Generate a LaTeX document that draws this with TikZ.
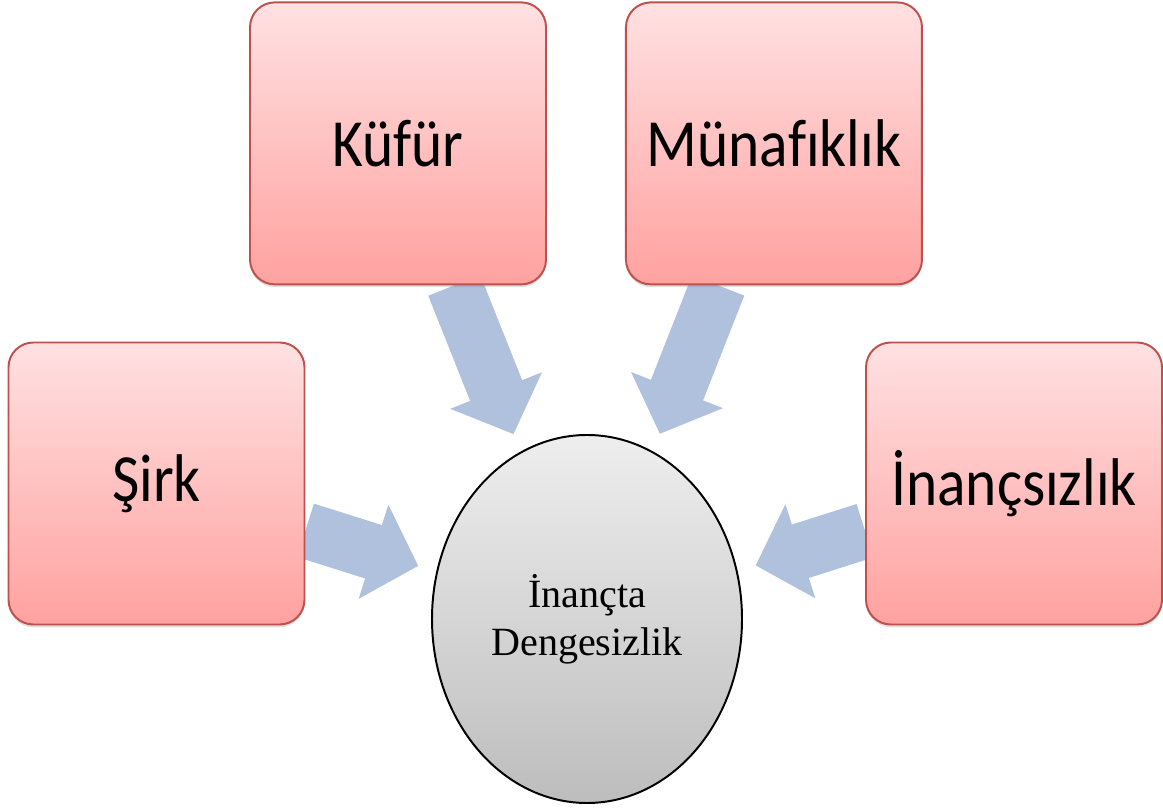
\documentclass[tikz,border=0pt]{standalone}
\usepackage{fontspec}
\usepackage{tikz}
\usetikzlibrary{arrows.meta, positioning, shapes, shapes.geometric, shadows, backgrounds}
\setmainfont{Liberation Serif}
\newfontfamily\boxfont[FakeStretch=0.88, Ligatures=NoCommon]{Carlito}
\definecolor{boxTop}{HTML}{FFE1E2}
\definecolor{boxBottom}{HTML}{FFA2A0}
\definecolor{boxLine}{HTML}{C0504D}
\definecolor{ovalTop}{HTML}{EEEEEE}
\definecolor{ovalBottom}{HTML}{BDBDBD}
\definecolor{flowBlue}{HTML}{B0C1DD}
\tikzset{
  box/.style = {
    draw=boxLine,
    line width=1.4pt,
    rectangle,
    rounded corners=0.62cm,
    top color=boxTop,
    bottom color=boxBottom,
    minimum width=7.4cm,
    minimum height=7.05cm,
    align=center,
    font=\boxfont\fontsize{48}{56}\selectfont,
    drop shadow={shadow xshift=0pt, shadow yshift=-2pt, opacity=.25},
  },
  oval/.style = {
    draw,
    ellipse,
    line width=1.4pt,
    top color=ovalTop,
    bottom color=ovalBottom,
    minimum width=7.75cm,
    minimum height=9.2cm,
    align=center,
    font=\fontsize{28.5}{34}\selectfont,
  },
  flow/.style = {
    draw=flowBlue,
    line width=1.4cm,
    -{Triangle[length=1.175cm, width=2.4cm]},
    shorten >=0.47cm,
  },
}

\begin{document}
\begin{tikzpicture}

\useasboundingbox (0,0) rectangle (29.075,20.275);

\node(Center)[oval] at (14.675,4.8) {İnançta\\Dengesizlik};

\node(Kufur)[box] at (9.95,16.69) {Küfür};
\node(Munafik)[box, right=1.95cm of Kufur] {Münafıklık};
\node(Sirk)[box] at (3.9125,8.1875) {Şirk};
\node(Inancsiz)[box] at (25.35,8.1875) {İnançsızlık};

\begin{scope}[on background layer]
  \draw[flow] (Kufur) -- (Center);
  \draw[flow] (Munafik) -- (Center);
  \draw[flow] (Sirk) -- (Center);
  \draw[flow] (Inancsiz) -- (Center);
\end{scope}

\end{tikzpicture}
\end{document}
